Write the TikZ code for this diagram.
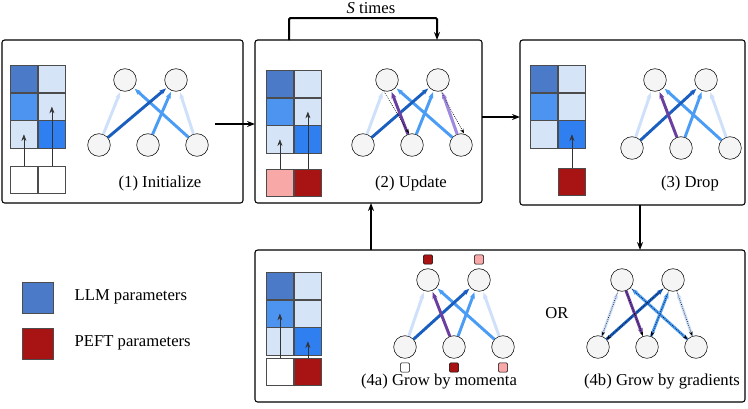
\documentclass[tikz,border=0pt]{standalone}
\usepackage{fontspec}
\setmainfont{Liberation Serif}
\usetikzlibrary{calc,arrows.meta}

\definecolor{llmdark}{HTML}{4A7AC8}
\definecolor{llmmid}{HTML}{4D94F0}
\definecolor{llmlight}{HTML}{D6E4F8}
\definecolor{llmbright}{HTML}{2F7FF0}
\definecolor{peftdark}{HTML}{A81414}
\definecolor{peftlight}{HTML}{F9A8A8}
\definecolor{edgelight}{HTML}{CFE0FB}
\definecolor{edgedark}{HTML}{1A5FC0}
\definecolor{edgemid}{HTML}{4A9CF5}
\definecolor{edgepurple}{HTML}{6A3FA0}
\definecolor{edgelilac}{HTML}{A08AE0}

\tikzset{
  stage/.style={draw, rounded corners=2pt, line width=0.8pt},
  neuron/.style={circle, draw, fill=black!4, minimum size=17pt, inner sep=0pt},
  cell/.style={draw=black!70, minimum size=20.5pt, inner sep=0pt},
  mini/.style={draw, rounded corners=1pt, minimum size=7pt, inner sep=0pt},
  wt/.style={-{Stealth[length=5pt]}, line width=2.2pt, shorten >=1pt},
  grad/.style={-{Stealth[length=3.5pt]}, densely dotted, line width=0.5pt},
  flow/.style={-{Stealth[length=6pt]}, line width=1.5pt},
  lbl/.style={font=\fontsize{12.5}{15}\selectfont}
}

% network: prefix, x of first top neuron, y of top row, x of first bottom neuron, y of bottom row
\newcommand{\netnodes}[5]{
  \node[neuron] (#1t1) at (#2,#3) {};
  \node[neuron] (#1t2) at (#2+51,#3) {};
  \node[neuron] (#1b1) at (#4,#5) {};
  \node[neuron] (#1b2) at (#4+49,#5) {};
  \node[neuron] (#1b3) at (#4+98,#5) {};
  \draw[wt, edgelight] (#1b1) -- (#1t1);
  \draw[wt, edgelight] (#1b3) -- (#1t2);
  \draw[wt, edgemid] (#1b2) -- (#1t2);
  \draw[wt, edgemid] (#1b3) -- (#1t1);
  \draw[wt, edgedark] (#1b1) -- (#1t2);
}

% matrix: prefix, left x, top y
\newcommand{\parammat}[3]{
  \foreach \r/\ca/\cb in {0/llmdark/llmlight, 1/llmmid/llmlight, 2/llmlight/llmbright} {
    \node[cell, fill=\ca, anchor=north west] (#1c\r a) at (#2,#3+\r*27.7) {};
    \node[cell, fill=\cb, anchor=north west] (#1c\r b) at (#2+28,#3+\r*27.7) {};
  }
}

\begin{document}
\begin{tikzpicture}[x=0.0264cm, y=-0.0264cm]
\useasboundingbox (0,0) rectangle (748,408);

% stages
\draw[stage] (2,40) rectangle (243,203);
\draw[stage] (255,40) rectangle (482,203);
\draw[stage] (520,40) rectangle (745,205);
\draw[stage] (255,250) rectangle (745,402);
\coordinate (s1e) at (243,124);
\coordinate (s2w) at (255,124);
\coordinate (s2e) at (482,117);
\coordinate (s3w) at (520,117);
\coordinate (s3s) at (640,205);
\coordinate (s4n) at (640,250);
\coordinate (s4up) at (371,250);
\coordinate (s2s) at (371,203);
\coordinate (loopa) at (289,40);
\coordinate (loopb) at (437,40);

\draw[flow] (215,124) -- (s2w);
\draw[flow] (s2e) -- (s3w);
\draw[flow] (s3s) -- (s4n);
\draw[flow] (s4up) -- (s2s);
\draw[flow, rounded corners=1pt] (loopa) |- (363,18) -| (loopb);
\node[lbl] (times) at (371,8) {\textit{S} times};

% (1) Initialize
\parammat{i}{10}{65}
\node[cell, fill=white, anchor=north west] (ip1) at (10,166) {};
\node[cell, fill=white, anchor=north west] (ip2) at (38,166) {};
\draw[-{Stealth[length=5pt]}, black!80] (ip1.north) -- (ic2a.center);
\draw[-{Stealth[length=5pt]}, black!80] (ip2.north) -- (ic1b.center);
\netnodes{i}{125}{80}{99}{145}
\node[lbl] (ilab) at (160,183) {(1) Initialize};

% (2) Update
\parammat{u}{266}{70}
\node[cell, fill=peftlight, anchor=north west] (up1) at (266,169) {};
\node[cell, fill=peftdark, anchor=north west] (up2) at (294,169) {};
\draw[-{Stealth[length=5pt]}, black!80] (up1.north) -- (uc2a.center);
\draw[-{Stealth[length=5pt]}, black!80] (up2.north) -- (uc1b.center);
\netnodes{u}{387}{80}{363}{145}
\draw[wt, edgepurple] (ub2) -- (ut1);
\draw[wt, edgelilac] (ub3) -- (ut2);
\draw[grad] (ut1.south) ++(-3,0) -- ($(ub2.north)+(-3,0)$);
\draw[grad] (ut2.south) ++(3,0) -- ($(ub3.north)+(3,0)$);
\node[lbl] (ulab) at (411,183) {(2) Update};

% (3) Drop
\parammat{d}{530}{65}
\node[cell, fill=peftdark, anchor=north west] (dp2) at (558,168) {};
\draw[-{Stealth[length=5pt]}, black!80] (dp2.north) -- (dc2b.center);
\netnodes{d}{655}{80}{632}{148}
\draw[wt, edgepurple] (db2) -- (dt1);
\node[lbl] (dlab) at (690,183) {(3) Drop};

% (4a) Grow by momenta
\parammat{g}{266}{272}
\node[cell, fill=white, anchor=north west] (gp1) at (266,358) {};
\node[cell, fill=peftdark, anchor=north west] (gp2) at (294,358) {};
\draw[-{Stealth[length=5pt]}, black!80] (gp1.north) -- (gc1a.center);
\draw[-{Stealth[length=5pt]}, black!80] (gp2.north) -- (gc2b.center);
\netnodes{m}{428}{280}{405}{347}
\draw[wt, edgepurple] (mb2) -- (mt1);
\node[mini, fill=peftdark, above=3pt] (mq1) at (mt1.north) {};
\node[mini, fill=peftlight, above=3pt] (mq2) at (mt2.north) {};
\node[mini, fill=white, below=3pt] (mq3) at (mb1.south) {};
\node[mini, fill=peftdark, below=3pt] (mq4) at (mb2.south) {};
\node[mini, fill=peftlight, below=3pt] (mq5) at (mb3.south) {};
\node[lbl] (mlab) at (439,382) {(4a) Grow by momenta};

\node[lbl] (orlab) at (557,313) {OR};

% (4b) Grow by gradients
\netnodes{n}{622}{280}{598}{347}
\draw[wt, edgepurple] (nt1) -- (nb2);
\foreach \t in {1,2}
  \foreach \b in {1,2,3}
    \draw[grad] (nt\t) -- (nb\b);
\node[lbl] (nlab) at (662,382) {(4b) Grow by gradients};

% legend
\node[cell, fill=llmdark, minimum size=23pt, anchor=north west] (leg1) at (22,282) {};
\node[lbl, anchor=west] (leg1t) at (70,297) {LLM parameters};
\node[cell, fill=peftdark, minimum size=23pt, anchor=north west] (leg2) at (22,328) {};
\node[lbl, anchor=west] (leg2t) at (70,343) {PEFT parameters};
\end{tikzpicture}
\end{document}
